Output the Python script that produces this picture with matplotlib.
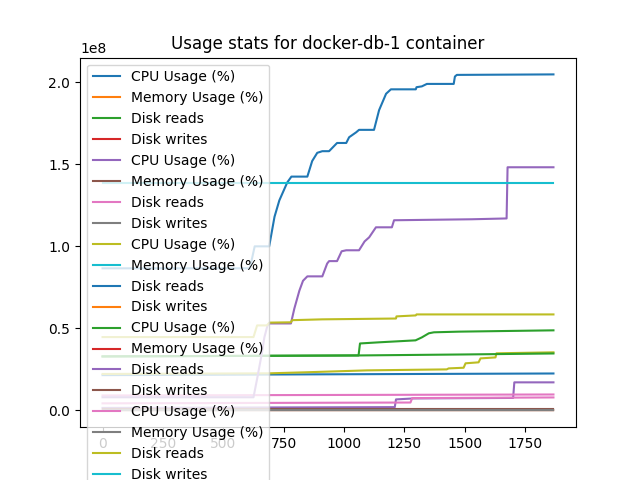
import matplotlib
matplotlib.use('Agg')
import matplotlib.pyplot as plt

# legend labels repeat once per container
metrics = ['CPU Usage (%)', 'Memory Usage (%)', 'Disk reads', 'Disk writes']
n_groups = 5
x_end = 1867

# values, in units of 1e8
blue_low_x = [0, x_end]
blue_low_y = [0.215, 0.225]

green_up_x = [0, 1060, 1066, 1145, 1296, 1322, 1351, 1372, 1475, x_end]
green_up_y = [0.329, 0.335, 0.408, 0.415, 0.427, 0.445, 0.470, 0.476, 0.480, 0.488]

purple_low_x = [0, 1210, 1215, 1289, 1700, 1705, x_end]
purple_low_y = [0.015, 0.020, 0.067, 0.073, 0.076, 0.171, 0.171]

pink_up_x = [0, x_end]
pink_up_y = [0.091, 0.097]

olive_low_x = [0, 691, 835, 1095, 1425, 1433, 1495, 1503, 1557, 1565, 1627, 1631, x_end]
olive_low_y = [0.222, 0.226, 0.232, 0.244, 0.250, 0.256, 0.260, 0.287, 0.293, 0.317, 0.323, 0.348, 0.354]

blue_big_x = [0, 610, 630, 690, 712, 732, 753, 765, 782, 848, 868, 889, 910, 938, 971,
              1009, 1021, 1050, 1062, 1124, 1145, 1174, 1194, 1297, 1300, 1322, 1343,
              1454, 1459, 1467, x_end]
blue_big_y = [0.866, 0.866, 1.000, 1.000, 1.180, 1.280, 1.350, 1.390, 1.425, 1.425, 1.520,
              1.570, 1.580, 1.580, 1.630, 1.630, 1.665, 1.695, 1.710, 1.710, 1.830, 1.930,
              1.957, 1.957, 1.970, 1.975, 1.990, 1.990, 2.035, 2.045, 2.048]

green_low_x = [0, 1060, 1500, x_end]
green_low_y = [0.329, 0.335, 0.341, 0.347]

purple_big_x = [0, 625, 641, 658, 670, 683, 691, 780, 794, 815, 830, 848, 910, 930, 938,
                971, 990, 1009, 1062, 1085, 1104, 1132, 1198, 1207, 1529, 1673, 1677, x_end]
purple_big_y = [0.080, 0.080, 0.200, 0.335, 0.445, 0.518, 0.530, 0.530, 0.620, 0.730,
                0.790, 0.817, 0.817, 0.895, 0.910, 0.910, 0.970, 0.976, 0.976, 1.030,
                1.055, 1.116, 1.116, 1.159, 1.165, 1.170, 1.482, 1.482]

brown_x = [0, x_end]
brown_y = [0.008, 0.008]

pink_low_x = [0, 1275, 1282, x_end]
pink_low_y = [0.043, 0.048, 0.075, 0.079]

olive_up_x = [0, 625, 640, 680, 691, 780, 785, 910, 1215, 1217, 1297, 1300, x_end]
olive_up_y = [0.447, 0.447, 0.518, 0.518, 0.535, 0.537, 0.550, 0.555, 0.560, 0.573,
              0.579, 0.585, 0.585]

cyan_x = [0, x_end]
cyan_y = [1.388, 1.388]

zero_x = [0, x_end]
zero_y = [0.0, 0.0]

series = [
    (blue_low_x, blue_low_y), (zero_x, zero_y), (green_up_x, green_up_y), (zero_x, zero_y),
    (purple_low_x, purple_low_y), (zero_x, zero_y), (pink_up_x, pink_up_y), (zero_x, zero_y),
    (olive_low_x, olive_low_y), (zero_x, zero_y), (blue_big_x, blue_big_y), (zero_x, zero_y),
    (green_low_x, green_low_y), (zero_x, zero_y), (purple_big_x, purple_big_y), (brown_x, brown_y),
    (pink_low_x, pink_low_y), (zero_x, zero_y), (olive_up_x, olive_up_y), (cyan_x, cyan_y),
]
labels = metrics * n_groups

fig = plt.figure(figsize=(6.4, 4.8), dpi=100)
for (xs, ys), label in zip(series, labels):
    plt.plot(xs, [v * 1e8 for v in ys], label=label)
plt.title('Usage stats for docker-db-1 container')
plt.legend(loc='upper left')
plt.savefig('out.png')
